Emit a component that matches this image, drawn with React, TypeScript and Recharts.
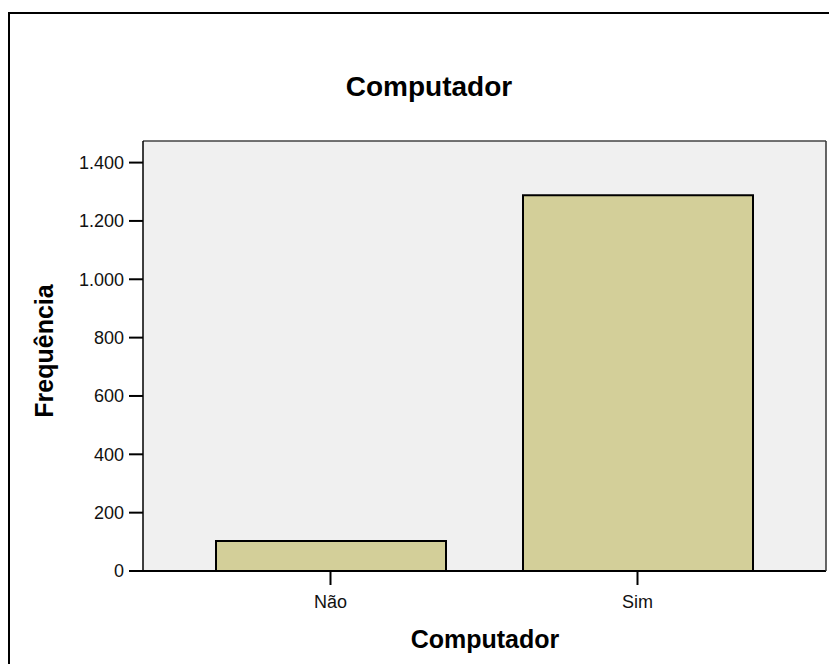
import { Bar, BarChart, CartesianGrid, XAxis, YAxis } from 'recharts';

const categories = ['Não', 'Sim'];
const frequencies = [103, 1288];
const yTicks = [0, 200, 400, 600, 800, 1000, 1200, 1400];

const data = categories.map((name, i) => ({ name, freq: frequencies[i] }));

const font = '"Liberation Sans", Arial, sans-serif';

// "1400" -> "1.400"
const fmt = (v: number) => String(v).replace(/\B(?=(\d{3})+(?!\d))/g, '.');

export default function App() {
  return (
    <div
      style={{
        position: 'fixed',
        left: 8,
        top: 12,
        width: 819,
        height: 650,
        borderLeft: '2px solid #000',
        borderTop: '2px solid #000',
        background: '#fff',
        fontFamily: font,
      }}
    >
      <BarChart
        width={819}
        height={650}
        data={data}
        margin={{ top: 126, right: 2, left: 0, bottom: 0 }}
      >
        <CartesianGrid fill="#f0f0f0" horizontal={false} vertical={false} />
        <XAxis
          dataKey="name"
          height={93}
          padding={{ left: 34, right: 35 }}
          axisLine={{ stroke: '#000', strokeWidth: 2 }}
          tickLine={{ stroke: '#000', strokeWidth: 2 }}
          tickSize={14}
          tickMargin={10}
          tick={{ fill: '#111', fontSize: 18, fontFamily: font }}
          label={{
            content: () => (
              <text x={475} y={634} textAnchor="middle" fontSize={25} fontWeight="bold" fontFamily={font} fill="#000">
                Computador
              </text>
            ),
          }}
        />
        <XAxis
          xAxisId="top"
          dataKey="name"
          orientation="top"
          height={1}
          tick={false}
          tickLine={false}
          axisLine={{ stroke: '#444', strokeWidth: 1.5 }}
        />
        <YAxis
          width={133}
          domain={[0, 1474]}
          ticks={yTicks}
          tickFormatter={fmt}
          interval={0}
          axisLine={{ stroke: '#000', strokeWidth: 1.5 }}
          tickLine={{ stroke: '#000', strokeWidth: 2 }}
          tickSize={14}
          tickMargin={5}
          tick={{ fill: '#111', fontSize: 18, fontFamily: font }}
          label={{
            content: () => (
              <text x={43} y={337} transform="rotate(-90 43 337)" textAnchor="middle" fontSize={25} fontWeight="bold" fontFamily={font} fill="#000">
                Frequência
              </text>
            ),
          }}
        />
        <YAxis
          yAxisId="right"
          orientation="right"
          width={1}
          domain={[0, 1474]}
          tick={false}
          tickLine={false}
          axisLine={{ stroke: '#333', strokeWidth: 1.5 }}
        />
        <Bar dataKey="freq" fill="#d3cf99" stroke="#000" strokeWidth={2} barSize={230} isAnimationActive={false} />
        <Bar dataKey="freq" xAxisId="top" yAxisId="right" fill="none" stroke="none" barSize={0} isAnimationActive={false} />
        <text x={419} y={82} textAnchor="middle" fontSize={28} fontWeight="bold" fontFamily={font} fill="#000">
          Computador
        </text>
      </BarChart>
    </div>
  );
}
